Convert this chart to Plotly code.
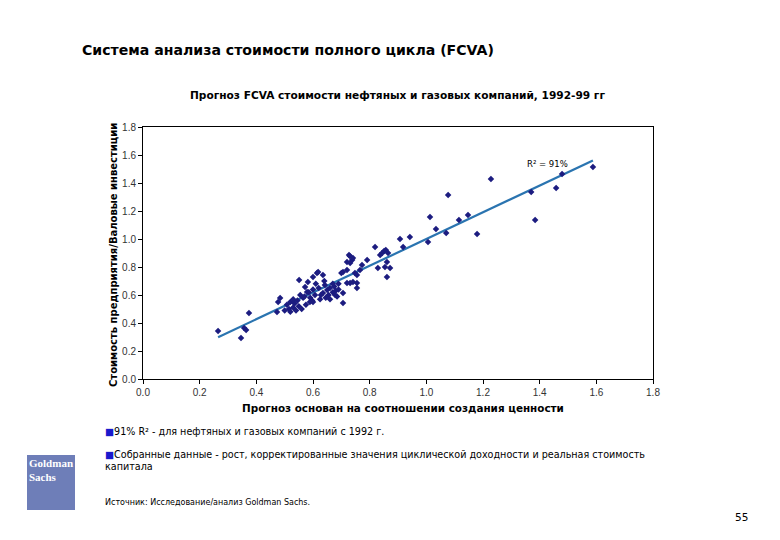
import numpy as np
import plotly.graph_objects as go

# ---- data ----
x_vals = [0.265, 0.346, 0.357, 0.364, 0.374, 0.473, 0.477, 0.484, 0.508, 0.515,
          0.520, 0.530, 0.535, 0.540, 0.545, 0.550, 0.555, 0.551, 0.565, 0.572,
          0.579, 0.582, 0.589, 0.597, 0.600, 0.607, 0.614, 0.618, 0.635, 0.642,
          0.635, 0.650, 0.610, 0.620, 0.628, 0.600, 0.590, 0.570, 0.600, 0.575,
          0.560, 0.655, 0.660, 0.670, 0.675, 0.680, 0.690, 0.685, 0.678, 0.706,
          0.700, 0.706, 0.720, 0.720, 0.731, 0.738, 0.741, 0.727, 0.730, 0.748,
          0.755, 0.766, 0.720, 0.731, 0.741, 0.755, 0.755, 0.706, 0.773, 0.791,
          0.819, 0.837, 0.844, 0.851, 0.857, 0.865, 0.829, 0.854, 0.861, 0.872,
          0.861, 0.907, 0.918, 0.942, 1.006, 1.013, 1.034, 1.070, 1.077, 1.115,
          1.147, 1.179, 1.228, 1.370, 1.384, 1.458, 1.479, 1.588, 0.640, 0.645,
          0.660, 0.670, 0.690, 0.625, 0.585, 0.530, 0.500, 0.520]
y_vals = [0.343, 0.293, 0.364, 0.350, 0.471, 0.479, 0.550, 0.579, 0.530, 0.500,
          0.550, 0.510, 0.540, 0.490, 0.560, 0.520, 0.600, 0.707, 0.580, 0.657,
          0.621, 0.693, 0.550, 0.560, 0.729, 0.600, 0.757, 0.764, 0.743, 0.671,
          0.614, 0.636, 0.680, 0.650, 0.600, 0.640, 0.580, 0.590, 0.550, 0.530,
          0.500, 0.600, 0.650, 0.620, 0.660, 0.630, 0.680, 0.590, 0.600, 0.543,
          0.757, 0.764, 0.779, 0.836, 0.829, 0.850, 0.864, 0.886, 0.879, 0.757,
          0.743, 0.779, 0.686, 0.686, 0.693, 0.686, 0.650, 0.614, 0.814, 0.850,
          0.943, 0.886, 0.900, 0.914, 0.921, 0.900, 0.793, 0.800, 0.836, 0.793,
          0.729, 1.000, 0.943, 1.014, 0.979, 1.157, 1.071, 1.043, 1.314, 1.136,
          1.171, 1.036, 1.429, 1.336, 1.136, 1.364, 1.464, 1.514, 0.700, 0.580,
          0.570, 0.680, 0.640, 0.570, 0.620, 0.570, 0.490, 0.480]
r2_label = "R² = 91%"
axis_ticks = [0.0, 0.2, 0.4, 0.6, 0.8, 1.0, 1.2, 1.4, 1.6, 1.8]

# linear trend fitted to the points
slope, intercept = np.polyfit(x_vals, y_vals, 1)
tx = np.array([min(x_vals), max(x_vals)])
ty = slope * tx + intercept

FONT = "DejaVu Sans, Arial, sans-serif"
TICKFONT = "Arial, Liberation Sans, sans-serif"
L, R, T, B = 143, 653, 127, 379


def px(xp):
    return (xp - L) / (R - L)


def py(yp):
    return (B - yp) / (B - T)


fig = go.Figure()
fig.add_trace(go.Scatter(x=tx, y=ty, mode="lines",
                         line=dict(color="#2a74b0", width=2.2),
                         hoverinfo="skip", showlegend=False))
fig.add_trace(go.Scatter(x=x_vals, y=y_vals, mode="markers",
                         marker=dict(symbol="diamond", size=5, color="#1c1c80"),
                         showlegend=False))

axis_common = dict(range=[0, 1.8], tickvals=axis_ticks,
                   ticktext=[f"{v:.1f}" for v in axis_ticks],
                   showgrid=False, zeroline=False, showline=True,
                   linecolor="black", linewidth=1, mirror=True,
                   ticks="outside", ticklen=4, tickcolor="black",
                   tickfont=dict(family=TICKFONT, size=10, color="#333"))
fig.update_xaxes(**axis_common)
fig.update_yaxes(**axis_common)

ann = []


def add_text(xp, yp, text, size, bold=False, xanchor="left", yanchor="middle",
             color="black", xref="paper", yref="paper"):
    t = f"<b>{text}</b>" if bold else text
    ann.append(dict(x=xp, y=yp, xref=xref, yref=yref, text=t, showarrow=False,
                    xanchor=xanchor, yanchor=yanchor, align="left",
                    font=dict(family=FONT, size=size, color=color)))


add_text(px(80), py(50), "Система анализа стоимости полного цикла (FCVA)", 14.1, bold=True)
add_text(px(397), py(95), "Прогноз FCVA стоимости нефтяных и газовых компаний, 1992-99 гг",
         10.6, bold=True, xanchor="center")
add_text(px(403), py(408), "Прогноз основан на соотношении создания ценности", 10.4,
         bold=True, xanchor="center")
ann.append(dict(x=px(113), y=py(255), xref="paper", yref="paper",
                text="<b>Стоимость предприятия/Валовые инвестиции</b>",
                showarrow=False, textangle=-90, xanchor="center", yanchor="middle",
                font=dict(family=FONT, size=10, color="black")))
add_text(1.426, 1.537, r2_label, 8.5, xanchor="center", xref="x", yref="y")

sq = "<span style='color:#1a1acc'>■</span>"
add_text(px(103), py(431), sq + "91% R² - для нефтяных и газовых компаний с 1992 г.", 9.6)
add_text(px(103), py(460),
         sq + "Собранные данные - рост, корректированные значения циклической доходности и реальная стоимость<br>капитала",
         9.6)
add_text(px(103), py(502), "Источник: Исследование/анализ Goldman Sachs.", 8.0)
add_text(px(741), py(517), "55", 10.5, xanchor="center")

# logo block
fig.add_shape(type="rect", xref="paper", yref="paper",
              x0=px(27), x1=px(75), y0=py(510), y1=py(455),
              fillcolor="#6e7eb8", line=dict(width=0), layer="above")
ann.append(dict(x=px(51), y=py(470), xref="paper", yref="paper",
                text="<b>Goldman<br>Sachs</b>", showarrow=False, align="left",
                xanchor="center", yanchor="middle",
                font=dict(family="Liberation Serif, Times New Roman, serif", size=11,
                          color="white")))

fig.update_layout(width=780, height=540,
                  margin=dict(l=L, r=780 - R, t=T, b=540 - B),
                  paper_bgcolor="white", plot_bgcolor="white",
                  annotations=ann, showlegend=False)

fig.write_html("out.html", config={"displayModeBar": False},
               post_script="document.body.style.margin='0';document.body.style.overflow='hidden';")
